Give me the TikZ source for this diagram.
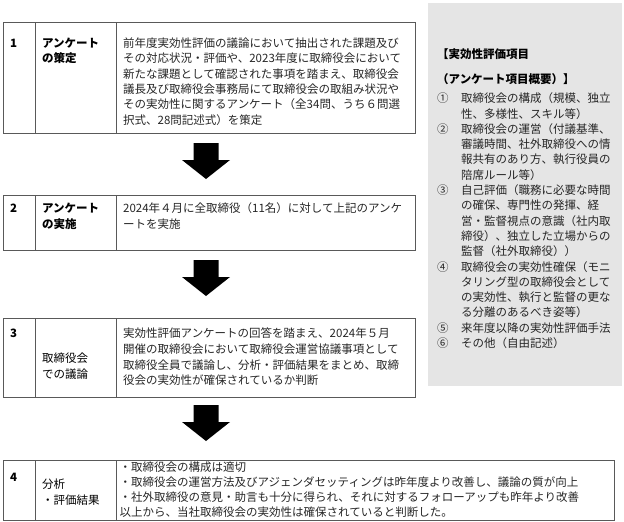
\documentclass[tikz,border=0pt]{standalone}
\usepackage{fontspec}
\setmainfont{Noto Sans CJK JP}
\newcommand\itm[1]{\makebox[24pt][l]{#1}}
\newcommand\ind{\hspace*{24pt}}
\begin{document}
\begin{tikzpicture}[x=1pt,y=-1pt,
  cell/.style={draw=black!65, line width=1pt, anchor=north west, inner sep=0pt, outer sep=0pt},
  txt/.style={anchor=north west, inner sep=0pt, align=left, font=\fontsize{11.5}{15.3}\selectfont, text=black!85},
  lbl/.style={txt, text=black},
  numtxt/.style={txt, text=black, font=\fontsize{11.5}{15.3}\selectfont\bfseries},
  panelbox/.style={fill=black!10, anchor=north west, inner sep=0pt, outer sep=0pt},
  blockarrow/.style={fill=black}
]
\useasboundingbox (0,0) rectangle (624,522);

% side panel
\node[panelbox, minimum width=194pt, minimum height=383pt] (panel) at (428,3) {};
\node[lbl, font=\fontsize{11.5}{15.3}\selectfont\bfseries] (ph1) at (437,48.7) {【実効性評価項目};
\node[lbl, font=\fontsize{11.5}{15.3}\selectfont\bfseries] (ph2) at (437,73.7) {（アンケート項目概要）】};
\node[txt] (pitems) at (437,92.7) {%
\itm{①}取締役会の構成（規模、独立\\
\ind 性、多様性、スキル等）\\
\itm{②}取締役会の運営（付議基準、\\
\ind 審議時間、社外取締役への情\\
\ind 報共有のあり方、執行役員の\\
\ind 陪席ルール等）\\
\itm{③}自己評価（職務に必要な時間\\
\ind の確保、専門性の発揮、経\\
\ind 営・監督視点の意識（社内取\\
\ind 締役）、独立した立場からの\\
\ind 監督（社外取締役））\\
\itm{④}取締役会の実効性確保（モニ\\
\ind タリング型の取締役会として\\
\ind の実効性、執行と監督の更な\\
\ind る分離のあるべき姿等）\\
\itm{⑤}来年度以降の実効性評価手法\\
\itm{⑥}その他（自由記述）};

% row 1
\node[cell, minimum width=32pt, minimum height=111pt] (r1a) at (3,22) {};
\node[cell, minimum width=81pt, minimum height=111pt] (r1b) at (35,22) {};
\node[cell, minimum width=299pt, minimum height=111pt] (r1c) at (116,22) {};
\node[numtxt] (n1) at (10,38.5) {1};
\node[lbl, font=\fontsize{11.5}{15.3}\selectfont\bfseries] (l1) at (42,37.7) {アンケート\\の策定};
\node[txt] (c1) at (123,37.7) {前年度実効性評価の議論において抽出された課題及び\\
その対応状況・評価や、2023年度に取締役会において\\
新たな課題として確認された事項を踏まえ、取締役会\\
議長及び取締役会事務局にて取締役会の取組み状況や\\
その実効性に関するアンケート（全34問、うち６問選\\
択式、28問記述式）を策定};

% row 2
\node[cell, minimum width=32pt, minimum height=55pt] (r2a) at (3,195) {};
\node[cell, minimum width=81pt, minimum height=55pt] (r2b) at (35,195) {};
\node[cell, minimum width=299pt, minimum height=55pt] (r2c) at (116,195) {};
\node[numtxt] (n2) at (10,203.5) {2};
\node[lbl, font=\fontsize{11.5}{15.6}\selectfont\bfseries] (l2) at (42,202.7) {アンケート\\の実施};
\node[txt, font=\fontsize{11.5}{16}\selectfont] (c2) at (123,202.7) {2024年４月に全取締役（11名）に対して上記のアンケ\\ートを実施};

% row 3
\node[cell, minimum width=32pt, minimum height=79pt] (r3a) at (3,318) {};
\node[cell, minimum width=81pt, minimum height=79pt] (r3b) at (35,318) {};
\node[cell, minimum width=299pt, minimum height=79pt] (r3c) at (116,318) {};
\node[numtxt] (n3) at (10,328.5) {3};
\node[lbl, font=\fontsize{11.5}{16}\selectfont] (l3) at (42,352.7) {取締役会\\での議論};
\node[txt, font=\fontsize{11.5}{15.7}\selectfont] (c3) at (123,327.7) {実効性評価アンケートの回答を踏まえ、2024年５月\\
開催の取締役会において取締役会運営協議事項として\\
取締役全員で議論し、分析・評価結果をまとめ、取締\\
役会の実効性が確保されているか判断};

% row 4
\node[cell, minimum width=32pt, minimum height=60pt] (r4a) at (3,460) {};
\node[cell, minimum width=81pt, minimum height=60pt] (r4b) at (35,460) {};
\node[cell, minimum width=498pt, minimum height=60pt] (r4c) at (116,460) {};
\node[numtxt] (n4) at (10,472.5) {4};
\node[lbl, font=\fontsize{11.5}{16}\selectfont] (l4) at (42,478.7) {分析\\・評価結果};
\node[txt, font=\fontsize{11.5}{15}\selectfont] (c4) at (119.5,461.7) {・取締役会の構成は適切\\
・取締役会の運営方法及びアジェンダセッティングは昨年度より改善し、議論の質が向上\\
・社外取締役の意見・助言も十分に得られ、それに対するフォローアップも昨年より改善\\
以上から、当社取締役会の実効性は確保されていると判断した。};

% block arrows
\coordinate (a1) at (206,143);
\coordinate (a2) at (206,260);
\coordinate (a3) at (206,405);
\foreach \a in {a1,a2,a3}{
  \fill[blockarrow] (\a) ++(-12.5,0) -- ++(25,0) -- ++(0,17) -- ++(11.5,0) -- ++(-24,19) -- ++(-24,-19) -- ++(11.5,0) -- cycle;
}
\end{tikzpicture}
\end{document}
